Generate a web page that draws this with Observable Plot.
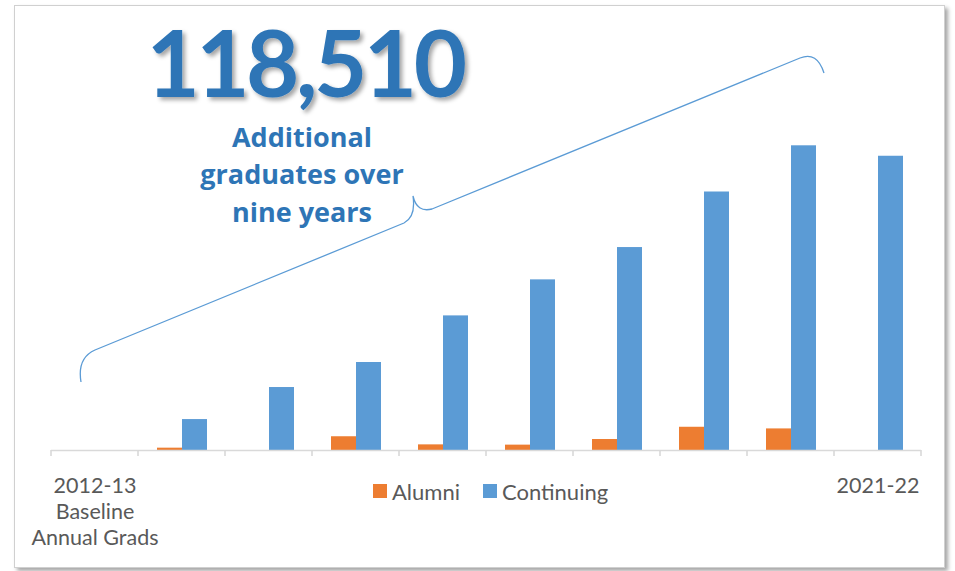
<!DOCTYPE html>
<html>
<head>
<meta charset="utf-8">
<script src="https://cdn.jsdelivr.net/npm/d3@7"></script>
<script src="https://cdn.jsdelivr.net/npm/@observablehq/plot@0.6"></script>
<style>
  body { margin: 0; background: #fff; }
  #wrap { position: relative; width: 955px; height: 571px; font-family: Lato, sans-serif; overflow: hidden; }
  #frame { position: absolute; left: 14px; top: 5px; width: 929px; height: 561px; border: 1px solid #d0d0d0; box-shadow: 3px 3px 4px rgba(0,0,0,0.35); background: #fff; }
  #chart { position: absolute; left: 0; top: 0; }
  #legend { position: absolute; left: 373px; top: 478px; height: 26px; display: flex; align-items: center; font-size: 22px; color: #595959; }
  #legend .item { display: flex; align-items: center; margin-right: 23px; }
  #legend .sw { width: 14px; height: 14px; margin-right: 5px; }
</style>
</head>
<body>
<div id="wrap">
  <div id="frame"></div>
  <div id="chart"></div>
  <div id="legend"></div>
</div>
<script>
// ---- data ----
const years = ["2012-13","2013-14","2014-15","2015-16","2016-17","2017-18","2018-19","2019-20","2020-21","2021-22"];
const series = ["Alumni","Continuing"];
const colors = ["#ED7D31","#5B9BD5"];
const alumni = [0, 170, -70, 1000, 410, 390, 800, 1690, 1570, 0];
const continuing = [0, 2250, 4580, 6400, 9790, 12410, 14760, 18800, 22160, 21400];
const firstTickLabel = ["2012-13","Baseline","Annual Grads"];
const lastTickLabel = ["2021-22"];
const headline = "118,510";
const subLines = ["Additional","graduates over","nine years"];

const data = [];
years.forEach((yr, i) => {
  data.push({year: yr, series: series[0], value: alumni[i]});
  data.push({year: yr, series: series[1], value: continuing[i]});
});

const plot = Plot.plot({
  width: 955,
  height: 571,
  marginLeft: 48,
  marginRight: 31,
  marginTop: 120,
  marginBottom: 121,
  style: {fontFamily: "Lato, sans-serif", background: "transparent", overflow: "visible"},
  fx: {domain: years, padding: 0, label: null},
  x: {domain: series, paddingInner: 0, paddingOuter: 0.72, axis: null},
  y: {domain: [0, 24000], axis: null},
  color: {domain: series, range: colors},
  marks: [
    Plot.barY(data, {fx: "year", x: "series", y: "value", fill: "series"}),
    Plot.ruleY([0], {stroke: "#d9d9d9", strokeWidth: 1.6}),
    Plot.axisFx({
      anchor: "bottom",
      label: null,
      tickSize: 0,
      tickPadding: 24,
      fontSize: 21.5,
      fill: "#595959",
      lineHeight: 1.21,
      tickFormat: d => d === years[0] ? firstTickLabel.join("\n") : d === years[years.length - 1] ? lastTickLabel.join("\n") : ""
    })
  ]
});
document.getElementById("chart").appendChild(plot);

// boundary ticks from the fx scale
const fx = plot.scale("fx");
const ys = plot.scale("y");
const y0 = ys.apply(0);
const edges = years.map(v => fx.apply(v)).concat([fx.apply(years[years.length - 1]) + fx.bandwidth]);
const svg = d3.select(plot);
svg.append("g").selectAll("line").data(edges).join("line")
  .attr("x1", d => d).attr("x2", d => d)
  .attr("y1", y0).attr("y2", y0 + 6)
  .attr("stroke", "#d9d9d9").attr("stroke-width", 1.6);

// annotation: brace
svg.append("path")
  .attr("d", "M81,382 Q77,358 95,350 L404,223 Q416,217 413,196 Q417,213 432,209 L800,58 Q817,51 824,73")
  .attr("fill", "none").attr("stroke", "#5B9BD5").attr("stroke-width", 1.3);

// annotation text
const defs = svg.append("defs");
const f = defs.append("filter").attr("id", "shadow").attr("x", "-10%").attr("y", "-10%").attr("width", "130%").attr("height", "140%");
f.append("feDropShadow").attr("dx", 3).attr("dy", 3).attr("stdDeviation", 2).attr("flood-color", "#000").attr("flood-opacity", 0.35);

svg.append("text")
  .attr("x", 305).attr("y", 97)
  .attr("text-anchor", "middle")
  .attr("font-family", "Lato, sans-serif")
  .attr("font-weight", 700)
  .attr("font-size", 92)
  .attr("letter-spacing", -3.5)
  .attr("fill", "#2E75B6")
  .attr("filter", "url(#shadow)")
  .text(headline);

const subBaselines = [147, 184, 222];
subLines.forEach((t, i) => {
  svg.append("text")
    .attr("x", 302).attr("y", subBaselines[i])
    .attr("text-anchor", "middle")
    .attr("font-family", "Open Sans, sans-serif")
    .attr("font-weight", 700)
    .attr("font-size", 27)
    .attr("fill", "#2E75B6")
    .text(t);
});

// legend
const legend = d3.select("#legend");
series.forEach((s, i) => {
  const it = legend.append("div").attr("class", "item");
  it.append("div").attr("class", "sw").style("background", colors[i]);
  it.append("span").text(s);
});
</script>
</body>
</html>
